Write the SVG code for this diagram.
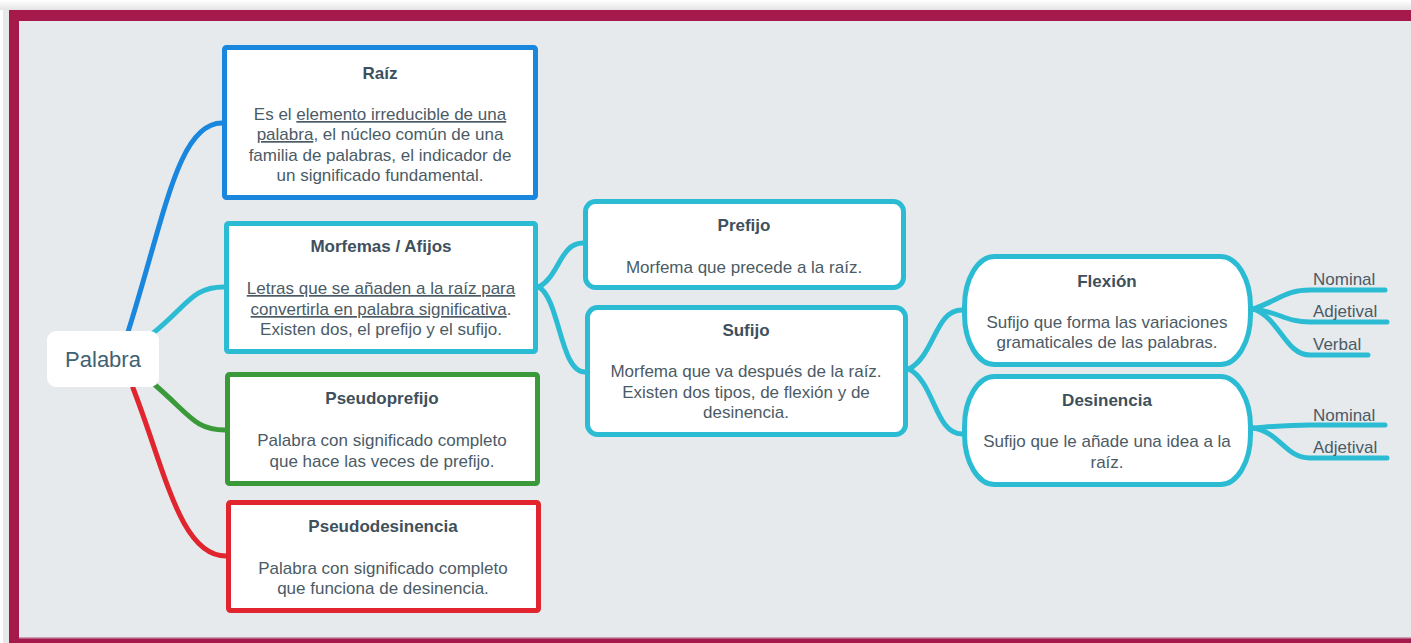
<svg xmlns="http://www.w3.org/2000/svg" width="1411" height="643" viewBox="0 0 1411 643">
<defs>
<style>
.bg{fill:#e6eaed}
.box{fill:#ffffff;stroke-width:5}
.t{font-family:"Liberation Sans",Arial,sans-serif;font-size:17px;font-weight:bold;fill:#3e505c;text-anchor:middle}
.b{font-family:"Liberation Sans",Arial,sans-serif;font-size:17px;fill:#4b5b66;text-anchor:middle}
.u{text-decoration:underline}
.leaf{font-family:"Liberation Sans",Arial,sans-serif;font-size:17px;fill:#4b5b66}
.c{fill:none;stroke-width:5;stroke-linecap:round}
.cy{stroke:#2bbcd4}
</style>
<linearGradient id="sh" x1="0" y1="0" x2="0" y2="1">
<stop offset="0" stop-color="#ffffff"/><stop offset="1" stop-color="#e4e4e4"/>
</linearGradient>
</defs>
<rect x="0" y="0" width="1411" height="643" fill="#ffffff"/>
<rect x="0" y="0" width="1411" height="10" fill="url(#sh)"/>
<rect x="3" y="8" width="8" height="635" fill="#e8e8e8"/>
<rect x="9" y="10" width="1402" height="633" fill="#a6194b"/>
<rect class="bg" x="19" y="21" width="1392" height="617"/>
<rect x="19" y="637" width="1392" height="1.5" fill="#c8a0b0"/>

<g id="connectors">
<path class="c" stroke="#1a87de" d="M128,332 C165,215 178,123 222,123"/>
<path class="c cy" d="M152,334 C188,305 192,287 224,287"/>
<path class="c" stroke="#3a9a3a" d="M155,385 C190,415 195,430 225,430"/>
<path class="c" stroke="#e0252e" d="M133,388 C165,470 180,556 226,556"/>
<path class="c cy" d="M539,287 C560,275 560,243 583,243"/>
<path class="c cy" d="M539,287 C560,300 560,372 585,372"/>
<path class="c cy" d="M909,369 C935,355 935,310 962,310"/>
<path class="c cy" d="M909,369 C935,383 935,434 962,434"/>
<path class="c cy" d="M1253,309 C1280,300 1285,290 1310,290 L1385,290"/>
<path class="c cy" d="M1253,309 C1280,312 1285,322 1310,322 L1387,322"/>
<path class="c cy" d="M1253,309 C1280,318 1285,355 1310,355 L1368,355"/>
<path class="c cy" d="M1253,428 C1280,426 1290,425 1310,425 L1385,425"/>
<path class="c cy" d="M1253,428 C1280,432 1285,458 1310,458 L1387,458"/>
</g>

<g id="palabra">
<rect x="47" y="331" width="112" height="56" rx="9" fill="#ffffff"/>
<text x="103" y="367" font-family="'Liberation Sans',Arial,sans-serif" font-size="22" fill="#3f6272" text-anchor="middle">Palabra</text>
</g>

<g id="raiz">
<rect class="box" x="224.5" y="47.5" width="311" height="150" rx="2" stroke="#1a87de"/>
<text class="t" x="380" y="79">Raíz</text>
<text class="b" x="380" y="120">Es el <tspan class="u">elemento irreducible de una</tspan></text>
<text class="b" x="380" y="140"><tspan class="u">palabra</tspan>, el núcleo común de una</text>
<text class="b" x="380" y="161">familia de palabras, el indicador de</text>
<text class="b" x="380" y="181">un significado fundamental.</text>
</g>

<g id="morfemas">
<rect class="box" x="226.5" y="223.5" width="309" height="128" rx="2" stroke="#2bbcd4"/>
<text class="t" x="381" y="252">Morfemas / Afijos</text>
<text class="b" x="381" y="294"><tspan class="u">Letras que se añaden a la raíz para</tspan></text>
<text class="b" x="381" y="315"><tspan class="u">convertirla en palabra significativa</tspan>.</text>
<text class="b" x="381" y="335">Existen dos, el prefijo y el sufijo.</text>
</g>

<g id="pseudoprefijo">
<rect class="box" x="227.5" y="374.5" width="310" height="109" rx="2" stroke="#3a9a3a"/>
<text class="t" x="382" y="404">Pseudoprefijo</text>
<text class="b" x="382" y="446">Palabra con significado completo</text>
<text class="b" x="382" y="467">que hace las veces de prefijo.</text>
</g>

<g id="pseudodesinencia">
<rect class="box" x="228.5" y="502.5" width="310" height="108" rx="2" stroke="#e0252e"/>
<text class="t" x="383" y="532">Pseudodesinencia</text>
<text class="b" x="383" y="574">Palabra con significado completo</text>
<text class="b" x="383" y="594">que funciona de desinencia.</text>
</g>

<g id="prefijo">
<rect class="box" x="585.5" y="201.5" width="318" height="86" rx="10" stroke="#2bbcd4"/>
<text class="t" x="744" y="231">Prefijo</text>
<text class="b" x="744" y="273">Morfema que precede a la raíz.</text>
</g>

<g id="sufijo">
<rect class="box" x="587.5" y="307.5" width="318" height="127" rx="10" stroke="#2bbcd4"/>
<text class="t" x="746" y="336">Sufijo</text>
<text class="b" x="746" y="377">Morfema que va después de la raíz.</text>
<text class="b" x="746" y="398">Existen dos tipos, de flexión y de</text>
<text class="b" x="746" y="418">desinencia.</text>
</g>

<g id="flexion">
<rect class="box" x="964.5" y="256.5" width="286" height="108" rx="30" ry="50" stroke="#2bbcd4"/>
<text class="t" x="1107" y="287">Flexión</text>
<text class="b" x="1107" y="328">Sufijo que forma las variaciones</text>
<text class="b" x="1107" y="348">gramaticales de las palabras.</text>
</g>

<g id="desinencia">
<rect class="box" x="964.5" y="376.5" width="286" height="108" rx="30" ry="50" stroke="#2bbcd4"/>
<text class="t" x="1107" y="406">Desinencia</text>
<text class="b" x="1107" y="447">Sufijo que le añade una idea a la</text>
<text class="b" x="1107" y="468">raíz.</text>
</g>

<g id="leaves">
<text class="leaf" x="1313" y="285">Nominal</text>
<text class="leaf" x="1313" y="317">Adjetival</text>
<text class="leaf" x="1313" y="350">Verbal</text>
<text class="leaf" x="1313" y="421">Nominal</text>
<text class="leaf" x="1313" y="453">Adjetival</text>
</g>
</svg>
